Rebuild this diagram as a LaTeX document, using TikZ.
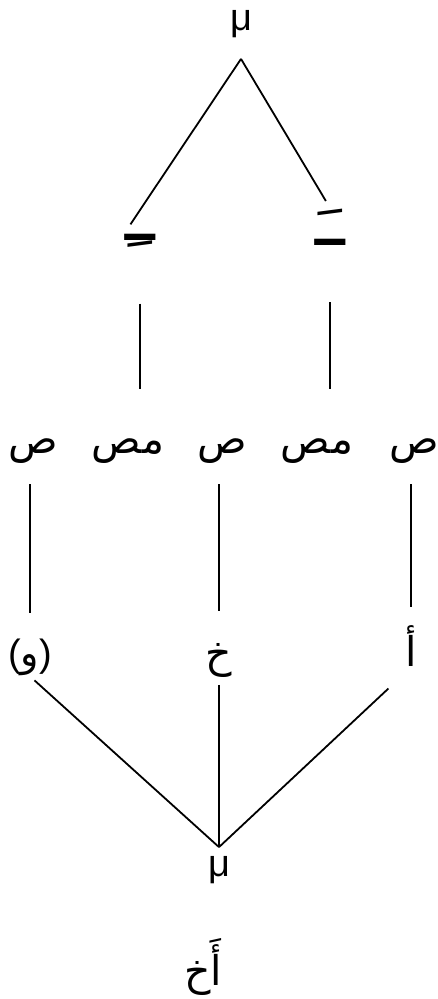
\documentclass[tikz,border=0pt]{standalone}
\usepackage{fontspec}
\usepackage{graphicx}
\setmainfont{Liberation Sans}
\newfontfamily\arabicfont[Script=Arabic]{DejaVu Sans}
\TeXXeTstate=1
\begin{document}
\begin{tikzpicture}[x=1pt,y=-1pt,inner sep=0pt,line width=1.8pt,
    font=\fontsize{38}{44}\selectfont,
    ar/.style={font=\fontsize{41}{46}\selectfont\arabicfont},
    harakah/.style={font=\fontsize{36}{44}\selectfont\arabicfont\bfseries}]
\useasboundingbox (0,0) rectangle (438,999);
% upper tree
\node[anchor=base, text depth=28pt] (mutop) at (241,30) {μ};
\node[harakah] (kasra) at (140,241) {\scalebox{2.4}[1.4]{\beginR ـِ\endR}};
\node[harakah] (fatha) at (330,227) {\scalebox{2.4}[1.4]{\beginR ـَ\endR}};
% row of syllable types
\foreach \n/\x/\t in {s1/33/ص, ms1/128/مص, s2/222/ص, ms2/317/مص, s3/414/ص}
    \node[ar] (\n) at (\x,451) {\beginR\t\endR};
% consonants
\node (waw) at (30,657) {({\arabicfont و})};
\node[ar] (khah) at (219,660) {\beginR خ\endR};
\node[ar] (alef) at (411,646) {\beginR أ\endR};
\node[anchor=base, text height=28pt] (mubot) at (219,876) {μ};
\node[ar] (word) at (203,967) {\beginR أَخ\endR};
% connectors
\draw[shorten >=11pt] (mutop.south) -- (kasra.north west);
\draw[shorten >=8pt] (mutop.south) -- (fatha.north);
\draw[shorten <=55pt, shorten >=49pt] (kasra.south) -- (kasra.south |- ms1.north);
\draw[shorten <=56pt, shorten >=49pt] (fatha.south) -- (fatha.south |- ms2.north);
\foreach \a/\b/\t in {s1/waw/25, s2/khah/31, s3/alef/18}
    \draw[shorten <=20pt, shorten >=\t pt] (\b |- \a.south) -- (\b.north);
\foreach \a/\s in {waw/6, khah/7, alef/31}
    \draw[shorten <=\s pt] (\a.south) -- (mubot.north);
\end{tikzpicture}
\end{document}
